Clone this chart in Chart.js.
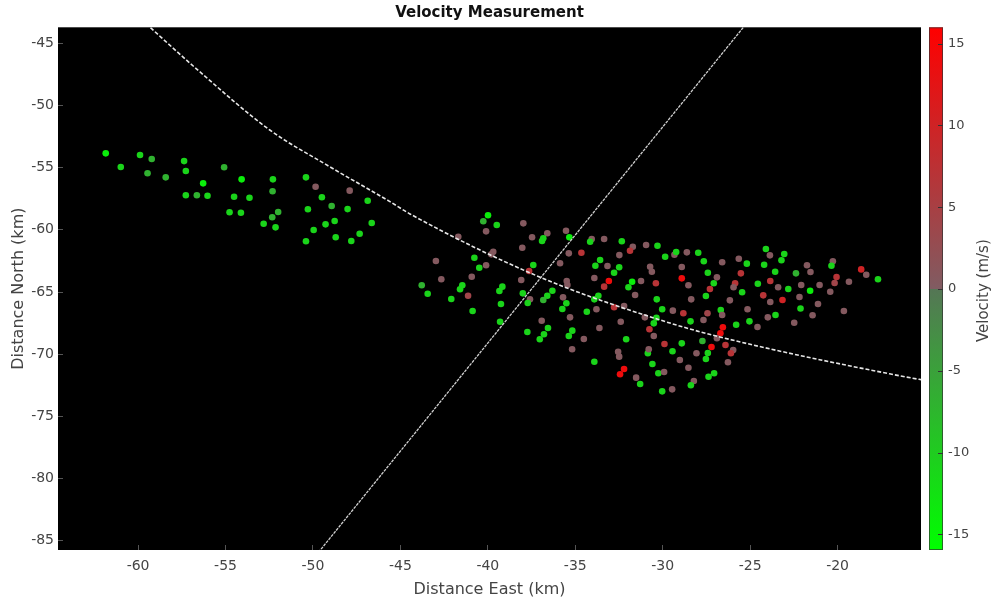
<!DOCTYPE html>
<html>
<head>
<meta charset="utf-8">
<script src="https://cdn.jsdelivr.net/npm/chart.js@4.4.0/dist/chart.umd.min.js"></script>
<style>
html,body{margin:0;padding:0;background:#fff;}
#wrap{position:relative;width:992px;height:602px;}
canvas{display:block;}
</style>
</head>
<body>
<div id="wrap"><canvas id="c" width="992" height="602"></canvas></div>
<script>
// ---------- data ----------
const xTickValues = [-60, -55, -50, -45, -40, -35, -30, -25, -20];
const yTickValues = [-85, -80, -75, -70, -65, -60, -55, -50, -45];
const velTickValues = [-15, -10, -5, 0, 5, 10, 15];
const eastRange = [-64.58, -15.23];
const northRange = [-85.75, -43.71];
const velRange = [-15.95, 16.0];

// [east km, north km, velocity m/s]
const westPoints = [
  [-61.85,-53.85,-14],[-60.99,-54.95,-11],[-59.89,-53.98,-11],[-59.22,-54.30,-7],[-59.46,-55.45,-7],
  [-58.42,-55.78,-7],[-57.37,-54.47,-11],[-57.27,-55.27,-11],[-56.28,-56.26,-14],[-57.27,-57.22,-11],
  [-56.64,-57.22,-7],[-56.03,-57.26,-11],[-55.08,-54.97,-7],[-54.08,-55.94,-14],[-54.51,-57.34,-11],
  [-53.63,-57.42,-11],[-54.77,-58.59,-11],[-54.12,-58.62,-11],[-52.29,-55.94,-11],[-52.31,-56.90,-7],
  [-51.99,-58.57,-7],[-52.33,-58.99,-7],[-52.82,-59.51,-11],[-52.14,-59.80,-11],[-50.40,-55.78,-11],
  [-49.85,-56.53,0.5],[-47.90,-56.85,0.5],[-49.49,-57.38,-11],[-48.93,-58.08,-7],[-50.29,-58.35,-11],
  [-48.02,-58.33,-11],[-46.87,-57.66,-11],[-46.64,-59.45,-11],[-48.76,-59.29,-11],[-49.28,-59.56,-11],
  [-49.96,-60.01,-11],[-50.40,-60.92,-11],[-48.70,-60.60,-11],[-47.81,-60.90,-11],[-47.33,-60.31,-11]
];
const centralPoints = [
  [-39.99,-58.83,-14],[-40.26,-59.31,-7],[-39.49,-59.61,-11],[-37.97,-59.48,0.5],[-40.10,-60.12,0.5],
  [-41.69,-60.55,0.5],[-37.47,-60.60,0.5],[-36.60,-60.28,0.5],[-36.83,-60.68,-11],[-36.90,-60.90,-11],
  [-35.53,-60.07,0.5],[-35.34,-60.60,-14],[-34.06,-60.74,0.5],[-34.15,-60.96,-11],[-33.35,-60.74,0.5],
  [-32.34,-60.92,-11],[-31.71,-61.36,0.5],[-30.95,-61.22,0.5],[-30.30,-61.28,-11],[-31.87,-61.68,7],
  [-38.03,-61.44,0.5],[-39.69,-61.76,0.5],[-39.80,-61.97,0.5],[-35.37,-61.89,0.5],[-34.65,-61.84,7],
  [-32.48,-62.03,0.5],[-40.77,-62.24,-11],[-42.97,-62.51,0.5],[-33.58,-62.43,-11],[-33.85,-62.89,-11],
  [-33.16,-62.91,0.5],[-32.49,-63.01,-11],[-30.72,-62.97,0.5],[-30.62,-63.37,0.5],[-32.78,-63.45,-11],
  [-35.87,-62.69,0.5],[-37.40,-62.83,-11],[-40.49,-63.05,-11],[-40.10,-62.85,0.5],[-37.64,-63.31,7],
  [-40.92,-63.77,0.5],[-42.66,-63.98,0.5],[-38.09,-64.04,0.5],[-35.49,-64.12,0.5],[-35.45,-64.44,0.5],
  [-33.91,-63.87,0.5],[-33.08,-64.12,14],[-33.35,-64.57,7],[-31.75,-64.17,-14],[-31.96,-64.62,-11],
  [-31.24,-64.12,0.5],[-30.39,-64.30,7],[-43.78,-64.46,-7],[-41.46,-64.46,-11],[-41.59,-64.78,-11],
  [-39.17,-64.57,-11],[-39.34,-64.92,-11],[-43.44,-65.14,-11],[-42.09,-65.56,-11],[-41.13,-65.30,4],
  [-38.00,-65.11,-11],[-36.31,-64.90,-11],[-36.60,-65.30,-11],[-36.83,-65.64,-7],[-37.59,-65.59,0.5],
  [-37.72,-65.89,-11],[-35.70,-65.43,0.5],[-31.58,-65.24,0.5],[-33.68,-65.30,-11],[-33.91,-65.59,-11],
  [-30.34,-65.59,-11],[-40.87,-66.53,-11],[-39.25,-65.97,-11],[-35.51,-65.91,-11],[-35.74,-66.37,-11],
  [-34.34,-66.59,-11],[-33.79,-66.39,0.5],[-32.78,-66.23,7],[-32.21,-66.13,0.5],[-39.30,-67.39,-11],
  [-35.30,-67.04,0.5],[-36.92,-67.31,0.5],[-32.40,-67.39,0.5],[-31.02,-67.04,0.5],[-30.36,-67.07,-11],
  [-37.74,-68.22,-11],[-36.56,-67.90,-11],[-36.79,-68.40,-11],[-37.03,-68.80,-11],[-35.17,-68.11,-11],
  [-35.37,-68.54,-11],[-34.51,-68.78,0.5],[-33.62,-67.90,0.5],[-30.76,-68.00,7],[-30.51,-67.52,-11],
  [-30.51,-68.54,0.5],[-35.18,-69.61,0.5],[-32.09,-68.80,-11],[-33.91,-70.61,-11],[-32.55,-69.80,0.5],
  [-32.49,-70.20,0.5],[-30.85,-69.93,-11],[-30.80,-69.61,0.5],[-30.59,-70.79,-11],[-32.21,-71.19,14],
  [-32.44,-71.62,14],[-31.52,-71.89,0.5],[-31.29,-72.40,-11],[-30.25,-71.54,-11]
];
const eastPoints = [
  [-29.86,-62.16,-11],[-29.33,-62.00,0.5],[-29.23,-61.78,-11],[-28.62,-61.81,0.5],[-27.97,-61.84,-11],
  [-27.65,-62.53,-11],[-28.91,-62.99,0.5],[-27.42,-63.45,-11],[-26.60,-62.61,0.5],[-25.65,-62.32,0.5],
  [-25.19,-62.72,-11],[-24.10,-61.54,-11],[-23.87,-62.05,0.5],[-23.05,-61.94,-11],[-23.21,-62.45,-11],
  [-24.20,-62.81,-11],[-25.53,-63.50,7],[-23.57,-63.37,-11],[-22.38,-63.50,-7],[-21.75,-62.85,0.5],
  [-21.55,-63.39,0.5],[-20.27,-62.53,0.5],[-20.35,-62.89,-11],[-18.65,-63.18,10],[-18.36,-63.61,0.5],
  [-17.69,-63.98,-11],[-20.06,-63.79,7],[-20.17,-64.28,4],[-19.35,-64.17,0.5],[-28.91,-63.90,14],
  [-26.90,-63.82,0.5],[-27.08,-64.30,-11],[-25.86,-64.30,7],[-25.95,-64.62,0.5],[-27.30,-64.76,7],
  [-28.53,-64.46,0.5],[-24.56,-64.33,-11],[-23.85,-64.12,7],[-23.40,-64.62,0.5],[-22.82,-64.76,-11],
  [-22.08,-64.44,0.5],[-21.03,-64.44,0.5],[-21.57,-64.90,-14],[-20.42,-64.98,0.5],[-27.53,-65.32,-11],
  [-28.37,-65.59,0.5],[-26.16,-65.67,0.5],[-25.46,-65.02,-11],[-24.25,-65.27,7],[-23.15,-65.64,10],
  [-23.85,-65.80,0.5],[-22.18,-65.40,0.5],[-21.12,-65.97,0.5],[-30.03,-66.39,-11],[-29.42,-66.50,0.5],
  [-28.82,-66.71,7],[-27.44,-66.71,4],[-26.68,-66.45,-11],[-27.67,-67.25,0.5],[-26.60,-66.85,0.5],
  [-28.41,-67.36,-11],[-25.15,-66.39,0.5],[-23.99,-67.04,0.5],[-22.12,-66.33,-11],[-21.43,-66.87,0.5],
  [-23.55,-66.85,-11],[-19.64,-66.53,0.5],[-22.48,-67.47,0.5],[-25.80,-67.63,-11],[-25.04,-67.36,-11],
  [-24.58,-67.82,0.5],[-26.56,-67.84,14],[-26.70,-68.32,14],[-26.90,-68.72,0.5],[-27.73,-68.94,-7],
  [-26.41,-69.26,7],[-25.97,-69.66,0.5],[-26.10,-69.93,7],[-27.21,-69.42,14],[-27.42,-69.91,-11],
  [-27.53,-70.39,-11],[-28.07,-69.93,0.5],[-28.91,-69.13,-11],[-29.44,-69.77,-11],[-29.02,-70.47,0.5],
  [-29.90,-69.18,7],[-28.53,-71.09,0.5],[-26.27,-70.65,0.5],[-27.06,-71.54,-11],[-27.38,-71.81,-11],
  [-29.92,-71.43,0.5],[-28.22,-72.16,0.5],[-28.39,-72.50,-11],[-30.03,-72.99,-11],[-29.46,-72.83,0.5]
];
// curved track line and straight cross line [east km, north km]
const trackCurve = [
  [-59.8,-43.1],[-56.46,-47.3],[-52.47,-51.97],[-49.02,-54.94],[-45.60,-57.73],[-44.45,-58.72],
  [-37.01,-63.81],[-30.15,-67.25],[-26.72,-68.62],[-16.41,-71.75],[-14.8,-72.15]
];
const crossLine = [[-50.4,-87.18],[-24.6,-42.34]];

// ---------- colormap ----------
const cmGreenEnd = [0,255,0], cmGreenMid = [85,118,85], cmRedMid = [128,92,98], cmRedEnd = [255,0,0];
function velColor(v){
  let a, b, t;
  if (v < 0) { t = (v - velRange[0]) / (0 - velRange[0]); a = cmGreenEnd; b = cmGreenMid; }
  else { t = v / velRange[1]; a = cmRedMid; b = cmRedEnd; }
  t = Math.max(0, Math.min(1, t));
  return 'rgb(' + a.map((c,i)=>Math.round(c + (b[i]-c)*t)).join(',') + ')';
}

const allPoints = westPoints.concat(centralPoints, eastPoints);
const scatterData = allPoints.map(p => ({x:p[0], y:p[1]}));
const scatterColors = allPoints.map(p => velColor(p[2]));
const curveData = trackCurve.map(p => ({x:p[0], y:p[1]}));
const crossData = crossLine.map(p => ({x:p[0], y:p[1]}));

const FONT = "'DejaVu Sans', 'Liberation Sans', Arial, sans-serif";
Chart.defaults.font.family = FONT;

const framePlugin = {
  id: 'frame',
  beforeDraw(chart){
    const {ctx, chartArea:a} = chart;
    ctx.save();
    ctx.fillStyle = '#ffffff';
    ctx.fillRect(0,0,chart.width,chart.height);
    ctx.fillStyle = '#000000';
    ctx.fillRect(a.left, a.top, a.right-a.left, a.bottom-a.top);
    ctx.restore();
  },
  afterDraw(chart){
    const {ctx, chartArea:a} = chart;
    const vs = chart.scales.v;
    const x0 = a.right + 8, w = 14;
    const yTop = vs.getPixelForValue(velRange[1]);
    const yBot = vs.getPixelForValue(velRange[0]);
    const yZero = vs.getPixelForValue(0);
    const zf = (yBot - yZero) / (yBot - yTop);
    ctx.save();
    const g = ctx.createLinearGradient(0, yBot, 0, yTop);
    const rgb = c => 'rgb(' + c.join(',') + ')';
    g.addColorStop(0, rgb(cmGreenEnd));
    g.addColorStop(zf, rgb(cmGreenMid));
    g.addColorStop(Math.min(1, zf + 0.0005), rgb(cmRedMid));
    g.addColorStop(1, rgb(cmRedEnd));
    ctx.fillStyle = g;
    ctx.fillRect(x0, yTop, w, yBot - yTop);
    ctx.strokeStyle = 'rgba(50,50,50,0.7)';
    ctx.lineWidth = 1;
    ctx.strokeRect(x0 + 0.5, yTop + 0.5, w - 1, yBot - yTop - 1);
    ctx.strokeStyle = '#333';
    velTickValues.forEach(t => {
      const y = Math.round(vs.getPixelForValue(t)) + 0.5;
      ctx.beginPath(); ctx.moveTo(x0 + w - 5, y); ctx.lineTo(x0 + w, y); ctx.stroke();
    });
    ctx.fillStyle = '#444';
    ctx.font = "15px " + FONT;
    ctx.textAlign = 'center';
    ctx.textBaseline = 'middle';
    ctx.translate(984, (a.top + a.bottom) / 2 + 2);
    ctx.rotate(-Math.PI / 2);
    ctx.fillText('Velocity (m/s)', 0, 0);
    ctx.restore();
  }
};

new Chart(document.getElementById('c'), {
  type: 'scatter',
  data: {
    datasets: [
      { type:'line', data: curveData, borderColor:'#e6e6e6', borderWidth:1.6, borderDash:[4,2],
        pointRadius:0, cubicInterpolationMode:'monotone', fill:false, order:0 },
      { type:'line', data: crossData, borderColor:'#cfcfcf', borderWidth:1.3, borderDash:[3,1],
        pointRadius:0, tension:0, fill:false, order:0 },
      { data: scatterData, pointBackgroundColor: scatterColors, pointBorderWidth:0,
        pointRadius:3.3, pointHoverRadius:3.3, order:1 }
    ]
  },
  options: {
    responsive:false, animation:false, devicePixelRatio:1, events:[],
    layout:{ padding:0 },
    plugins:{
      legend:{display:false}, tooltip:{enabled:false},
      title:{ display:true, text:'Velocity Measurement', color:'#111', fullSize:false,
        font:{size:15, weight:'bold', lineHeight:1.2}, padding:{top:4.5, bottom:4.8} }
    },
    scales:{
      x:{ type:'linear', position:'bottom', min:eastRange[0], max:eastRange[1],
        afterBuildTicks: s => { s.ticks = xTickValues.map(v => ({value:v})); },
        afterFit: s => { s.height = 52; s.paddingLeft = 0; s.paddingRight = 0; },
        ticks:{ color:'#444', font:{size:14}, padding:13.3, maxRotation:0, autoSkip:false,
          callback: v => String(v) },
        grid:{ drawOnChartArea:false, drawTicks:true, tickLength:-5, color:'#555' },
        border:{ display:false },
        title:{ display:true, text:'Distance East (km)', color:'#444', font:{size:16}, padding:{top:0,bottom:2.9} }
      },
      y:{ type:'linear', position:'left', min:northRange[0], max:northRange[1],
        afterBuildTicks: s => { s.ticks = yTickValues.map(v => ({value:v})); },
        afterFit: s => { s.width = 58; s.paddingTop = 0; s.paddingBottom = 0; },
        ticks:{ color:'#444', font:{size:14}, padding:9, autoSkip:false, callback: v => String(v) },
        grid:{ drawOnChartArea:false, drawTicks:true, tickLength:-5, color:'#555' },
        border:{ display:false },
        title:{ display:true, text:'Distance North (km)', color:'#444', font:{size:16}, padding:{top:9.4,bottom:0} }
      },
      v:{ type:'linear', position:'right', min:velRange[0], max:velRange[1],
        afterBuildTicks: s => { s.ticks = velTickValues.map(v => ({value:v})); },
        afterFit: s => { s.width = 71; s.paddingTop = 0; s.paddingBottom = 0; },
        ticks:{ color:'#444', font:{size:13}, padding:27, autoSkip:false, callback: v => String(v) },
        grid:{ display:false, drawTicks:false },
        border:{ display:false }
      }
    }
  },
  plugins:[framePlugin]
});
</script>
</body>
</html>
